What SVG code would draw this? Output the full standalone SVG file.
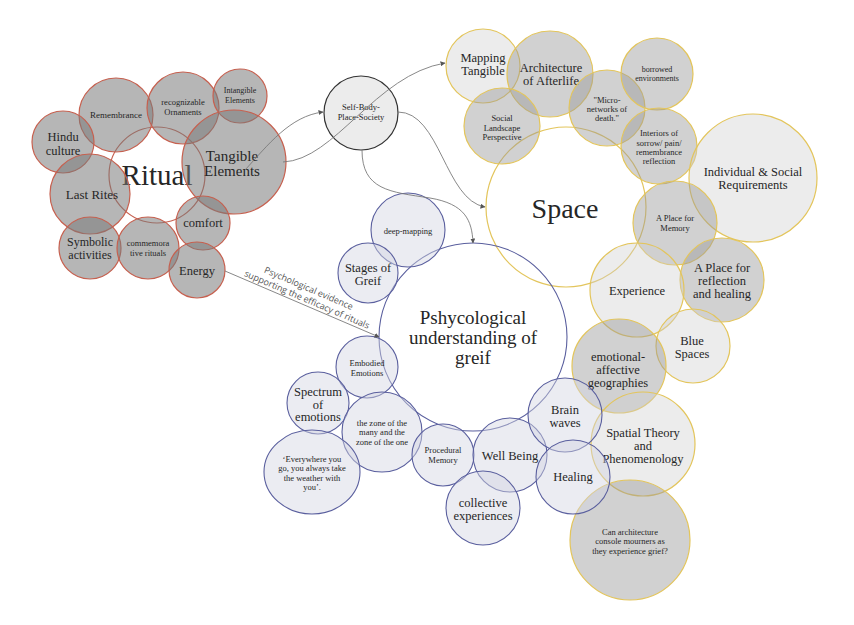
<svg xmlns="http://www.w3.org/2000/svg" width="854" height="625" viewBox="0 0 854 625">
<defs>
<style>
text{font-family:'Liberation Serif','DejaVu Serif',serif;fill:#262626;text-anchor:middle}
.r{stroke:#c6604f;stroke-width:1.2;fill:#7a7a7a;fill-opacity:.55}
.rn{stroke:#c6604f;stroke-width:1.2;fill:none}
.yg{stroke:#e3c55c;stroke-width:1.2;fill:#9a9a9a;fill-opacity:.45}
.yl{stroke:#e3c55c;stroke-width:1.2;fill:#cfcfcf;fill-opacity:.4}
.yn{stroke:#e3c55c;stroke-width:1.2;fill:none}
.b{stroke:#5a5f9e;stroke-width:1.1;fill:#d3d4e2;fill-opacity:.45}
.bn{stroke:#5a5f9e;stroke-width:1.1;fill:none}
.k{stroke:#333;stroke-width:1.2;fill:#ececec}
.c{fill:none;stroke:#7a7a7a;stroke-width:.9;marker-end:url(#a)}
.s8{font-size:8.5px}.s12{font-size:12.5px}
text.lab{font-family:'Open Sans','DejaVu Sans',sans-serif;font-size:9px;fill:#555;text-anchor:start}
</style>
<marker id="a" viewBox="0 0 10 10" refX="9" refY="5" markerWidth="5" markerHeight="5" markerUnits="userSpaceOnUse" orient="auto">
<path d="M0,0L10,5L0,10z" fill="#555"/>
</marker>
</defs>

<g id="ritual-cluster">
<g id="n-ritual"><circle class="rn" cx="157" cy="175" r="48"/><text x="157" y="185" font-size="29">Ritual</text></g>
<g id="n-remembrance"><circle class="r" cx="116" cy="115" r="37"/><text x="116" y="118" font-size="9">Remembrance</text></g>
<g id="n-ornaments"><circle class="r" cx="183" cy="108" r="36"/><text class="s8" x="183" y="105">recognizable</text><text class="s8" x="183" y="115">Ornaments</text></g>
<g id="n-intangible"><circle class="r" cx="240" cy="96" r="27"/><text x="240" y="93" font-size="8">Intangible</text><text x="240" y="103" font-size="8">Elements</text></g>
<g id="n-tangible"><circle class="r" cx="234" cy="162" r="52"/><text x="232" y="160.5" font-size="15">Tangible</text><text x="232" y="176" font-size="15">Elements</text></g>
<g id="n-hindu"><circle class="r" cx="63" cy="142" r="31"/><text x="63" y="141" font-size="12.5">Hindu</text><text x="63" y="154.5" font-size="12.5">culture</text></g>
<g id="n-lastrites"><circle class="r" cx="90" cy="194" r="40"/><text x="92" y="199" font-size="13">Last Rites</text></g>
<g id="n-comfort"><circle class="r" cx="203" cy="223" r="27"/><text x="203" y="227" font-size="12.5">comfort</text></g>
<g id="n-symbolic"><circle class="r" cx="90" cy="248" r="31"/><text x="90" y="246" font-size="12">Symbolic</text><text x="90" y="259" font-size="12">activities</text></g>
<g id="n-commemorative"><circle class="r" cx="148" cy="248" r="31"/><text class="s8" x="148" y="246">commemora</text><text class="s8" x="148" y="256">tive rituals</text></g>
<g id="n-energy"><circle class="r" cx="197" cy="270" r="28"/><text x="197" y="275" font-size="12.5">Energy</text></g>
</g>

<g id="space-cluster">
<g id="n-space"><circle class="yn" cx="566" cy="207" r="80"/><text x="565" y="218" font-size="28">Space</text></g>
<g id="n-mapping"><circle class="yl" cx="483" cy="66" r="37"/><text x="483" y="61.5" font-size="12.5">Mapping</text><text x="483" y="75" font-size="12.5">Tangible</text></g>
<g id="n-architecture"><circle class="yg" cx="550" cy="74" r="43"/><text x="551" y="71.5" font-size="12.5">Architecture</text><text x="551" y="85" font-size="12.5">of Afterlife</text></g>
<g id="n-social"><circle class="yg" cx="502" cy="126" r="38"/><text class="s8" x="502" y="121">Social</text><text class="s8" x="502" y="130.5">Landscape</text><text class="s8" x="502" y="140">Perspective</text></g>
<g id="n-micro"><circle class="yg" cx="607" cy="108" r="38"/><text class="s8" x="607" y="103">"Micro-</text><text class="s8" x="607" y="112">networks of</text><text class="s8" x="607" y="121">death."</text></g>
<g id="n-borrowed"><circle class="yg" cx="657" cy="74" r="36"/><text x="657" y="72" font-size="8">borrowed</text><text x="657" y="81" font-size="8">environments</text></g>
<g id="n-interiors"><circle class="yg" cx="659" cy="146" r="38"/><text class="s8" x="659" y="136">Interiors of</text><text class="s8" x="659" y="145.5">sorrow/ pain/</text><text class="s8" x="659" y="154.5">remembrance</text><text class="s8" x="659" y="163.5">reflection</text></g>
<g id="n-individual"><circle class="yl" cx="753" cy="178" r="64"/><text class="s12" x="753" y="176">Individual &amp; Social</text><text class="s12" x="753" y="189">Requirements</text></g>
<g id="n-memory"><circle class="yg" cx="675" cy="223" r="42"/><text class="s8" x="675" y="221">A Place for</text><text class="s8" x="675" y="231">Memory</text></g>
<g id="n-reflection"><circle class="yg" cx="722" cy="280" r="42"/><text class="s12" x="722" y="272">A Place for</text><text class="s12" x="722" y="285">reflection</text><text class="s12" x="722" y="298">and healing</text></g>
<g id="n-experience"><circle class="yl" cx="637" cy="290" r="47"/><text class="s12" x="637" y="295">Experience</text></g>
<g id="n-blue"><circle class="yl" cx="693" cy="346" r="37"/><text class="s12" x="692" y="345">Blue</text><text class="s12" x="692" y="358">Spaces</text></g>
<g id="n-emotional"><circle class="yg" cx="619" cy="366" r="47"/><text class="s12" x="618" y="361">emotional-</text><text class="s12" x="618" y="374">affective</text><text class="s12" x="618" y="387">geographies</text></g>
<g id="n-spatial"><circle class="yl" cx="643" cy="444" r="52"/><text class="s12" x="643" y="436.5">Spatial Theory</text><text class="s12" x="643" y="449.5">and</text><text class="s12" x="643" y="462.5">Phenomenology</text></g>
<g id="n-question"><circle class="yg" cx="630" cy="540" r="60"/><text class="s8" x="630" y="534.5">Can architecture</text><text class="s8" x="630" y="544">console mourners as</text><text class="s8" x="630" y="553.5">they experience grief?</text></g>
</g>

<g id="psych-cluster">
<g id="n-psych"><circle class="bn" cx="473" cy="337" r="94"/><text x="473" y="323.5" font-size="19">Pshycological</text><text x="473" y="343.5" font-size="19">understanding of</text><text x="473" y="363.5" font-size="19">greif</text></g>
<g id="n-deep"><circle class="b" cx="408" cy="230" r="37"/><text class="s8" x="408" y="233.5">deep-mapping</text></g>
<g id="n-stages"><circle class="b" cx="368" cy="273" r="30"/><text class="s12" x="368" y="271.5">Stages of</text><text class="s12" x="368" y="284.5">Greif</text></g>
<g id="n-embodied"><circle class="b" cx="367" cy="367" r="31"/><text class="s8" x="367" y="366">Embodied</text><text class="s8" x="367" y="375.5">Emotions</text></g>
<g id="n-spectrum"><circle class="b" cx="318" cy="403" r="31"/><text class="s12" x="318" y="396">Spectrum</text><text class="s12" x="318" y="408.5">of</text><text class="s12" x="318" y="421">emotions</text></g>
<g id="n-zone"><circle class="b" cx="382" cy="432" r="40"/><text class="s8" x="382" y="425.5">the zone of the</text><text class="s8" x="382" y="435">many and the</text><text class="s8" x="382" y="444.5">zone of the one</text></g>
<g id="n-everywhere"><ellipse class="b" cx="312" cy="472" rx="48" ry="42"/><text class="s8" x="312" y="461.5">‘Everywhere you</text><text class="s8" x="312" y="471">go, you always take</text><text class="s8" x="312" y="480.5">the weather with</text><text class="s8" x="312" y="490">you’.</text></g>
<g id="n-procedural"><circle class="b" cx="443" cy="455" r="31"/><text class="s8" x="443" y="453">Procedural</text><text class="s8" x="443" y="462.5">Memory</text></g>
<g id="n-wellbeing"><circle class="b" cx="510" cy="455" r="37"/><text class="s12" x="510" y="460">Well Being</text></g>
<g id="n-collective"><circle class="b" cx="483" cy="508" r="37"/><text class="s12" x="483" y="507">collective</text><text class="s12" x="483" y="520">experiences</text></g>
<g id="n-brain"><circle class="b" cx="565" cy="415" r="37"/><text class="s12" x="565" y="414">Brain</text><text class="s12" x="565" y="427">waves</text></g>
<g id="n-healing"><circle class="b" cx="573" cy="477" r="37"/><text class="s12" x="573" y="481">Healing</text></g>
</g>

<g id="n-selfbody"><circle class="k" cx="361" cy="113" r="37"/><text class="s8" x="361" y="110">Self-Body-</text><text class="s8" x="361" y="120">Place-Society</text></g>

<g id="connectors">
<path class="c" d="M245,170 C268,145 290,116 323,112"/>
<path class="c" d="M283,162 C335,160 375,75 445,63"/>
<path class="c" d="M398,112 C440,112 445,200 485,207"/>
<path class="c" d="M362,150 C362,190 390,192 430,198 C465,204 472,220 473,243"/>
<path class="c" d="M225,271 L379,337"/>
<g transform="translate(225,271) rotate(23.2)">
<text class="lab" x="36" y="-14">Psychological evidence</text>
<text class="lab" x="19" y="-3">supporting the efficacy of rituals</text>
</g>
</g>
</svg>
